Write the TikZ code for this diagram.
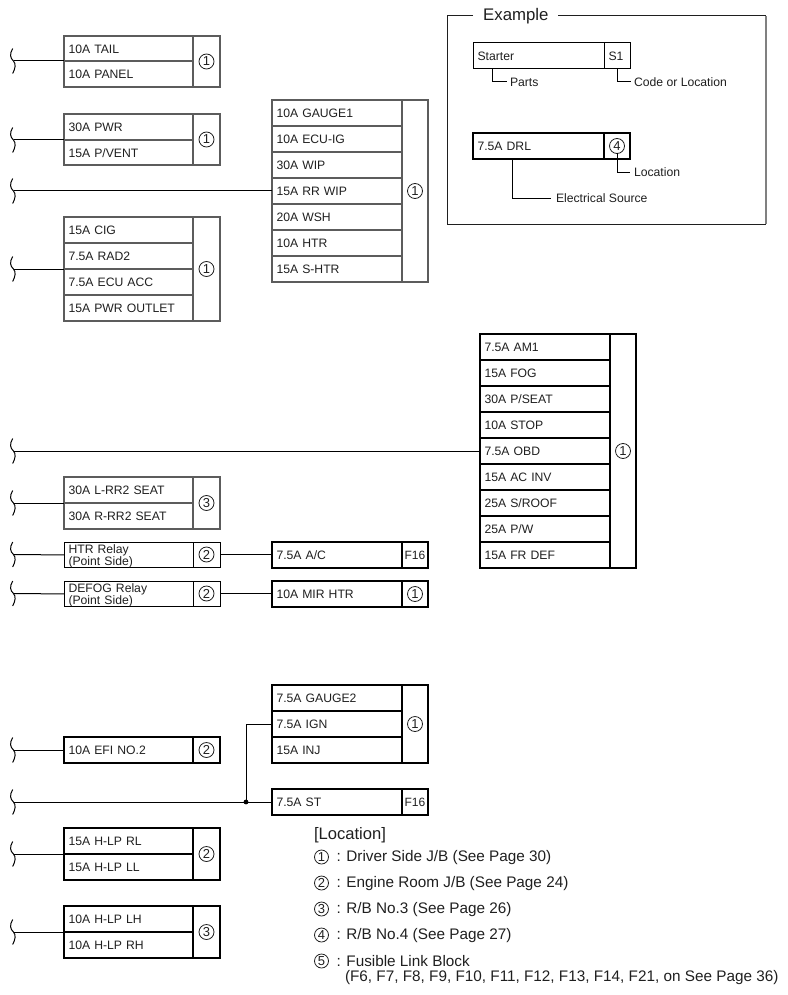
\documentclass[tikz,border=0pt]{standalone}
\usepackage{fontspec}
\setmainfont{Liberation Sans}
\definecolor{ink}{gray}{0.12}
\definecolor{edge}{gray}{0.36}
\tikzset{
  thinbox/.style={draw=edge,line width=1.5pt},
  finebox/.style={draw=black,line width=1pt},
  thickbox/.style={draw=black,line width=2pt},
  wire/.style={draw=black,line width=1pt},
  tilde/.style={draw=black,line width=1pt},
  num/.style={draw=ink,circle,line width=0.8pt,minimum size=15pt,inner sep=0pt,outer sep=0pt,text=ink,font=\fontsize{13}{13}\selectfont},
  lnum/.style={num,minimum size=14pt},
  code/.style={text=ink,inner sep=0pt,font=\fontsize{12}{12}\selectfont},
  lbl/.style={anchor=west,inner sep=0pt,outer sep=0pt,text=ink,font=\fontsize{12.2}{14}\selectfont},
  leg/.style={anchor=west,inner sep=0pt,outer sep=0pt,text=ink,font=\fontsize{15.3}{17}\selectfont,align=left},
}
% \Cell[style]{name}{x1}{x2}{y1}{y2}{text}
\newcommand\Cell[7][thinbox]{%
  \pgfmathsetmacro\cw{#4-#3}\pgfmathsetmacro\ch{#6-#5}\pgfmathsetmacro\tw{\cw-9}%
  \node[#1,minimum width=\cw pt,minimum height=\ch pt,text width=\tw pt,inner xsep=4.5pt,inner ysep=0pt,outer sep=0pt,anchor=north west,align=left,text=ink,font=\fontsize{12.2}{12}\selectfont] (#2) at (#3,#5) {\rule[-2pt]{0pt}{13.3pt}#7};}
% \Rel: two-line relay cell
\newcommand\Rel[6]{%
  \pgfmathsetmacro\cw{#3-#2}\pgfmathsetmacro\ch{#5-#4}\pgfmathsetmacro\tw{\cw-9}%
  \node[finebox,minimum width=\cw pt,minimum height=\ch pt,text width=\tw pt,inner xsep=4.5pt,inner ysep=0pt,outer sep=0pt,anchor=north west,align=left,text=ink,font=\fontsize{12.2}{10.8}\selectfont] (#1) at (#2,#4) {\setlength{\lineskiplimit}{-6pt}\rule{0pt}{11pt}#6};}
% \Sq{name}{y}: break mark, coordinate name at its centre
\newcommand\Sq[2]{%
  \coordinate (#1) at (13.5,#2);
  \draw[tilde] (12.7,#2-12.5) .. controls (9.5,#2-7) and (10,#2-3) .. (#1) .. controls (16,#2+3) and (15.5,#2+7) .. (12.7,#2+12.5);}
\begin{document}
\begin{tikzpicture}[x=1pt,y=-1pt]
\useasboundingbox (0,0) rectangle (787,995);
% TAIL group
\Cell{a1}{64}{193}{36}{61}{10A TAIL}
\Cell{a2}{64}{193}{61}{87}{10A PANEL}
\Cell{ac}{193}{220}{36}{87}{}
\node[num] (an) at (ac.center) {1};
\Sq{sa}{61}
\draw[wire] (sa) -- (a1.south west);
% PWR group
\Cell{b1}{64}{193}{114}{140}{30A PWR}
\Cell{b2}{64}{193}{140}{165}{15A P/VENT}
\Cell{bc}{193}{220}{114}{165}{}
\node[num] (bn) at (bc.center) {1};
\Sq{sb}{140}
\draw[wire] (sb) -- (b1.south west);
% GAUGE1 group
\Cell{c1}{272}{402}{100}{126}{10A GAUGE1}
\Cell{c2}{272}{402}{126}{152}{10A ECU-IG}
\Cell{c3}{272}{402}{152}{178}{30A WIP}
\Cell{c4}{272}{402}{178}{204}{15A RR WIP}
\Cell{c5}{272}{402}{204}{230}{20A WSH}
\Cell{c6}{272}{402}{230}{256}{10A HTR}
\Cell{c7}{272}{402}{256}{282}{15A S-HTR}
\Cell{cc}{402}{428}{100}{282}{}
\node[num] (cn) at (cc.center) {1};
\Sq{sc}{191}
\draw[wire] (sc) -- (c4.west);
% CIG group
\Cell{d1}{64}{193}{217}{243}{15A CIG}
\Cell{d2}{64}{193}{243}{269}{7.5A RAD2}
\Cell{d3}{64}{193}{269}{295}{7.5A ECU ACC}
\Cell{d4}{64}{193}{295}{321}{15A PWR OUTLET}
\Cell{dc}{193}{220}{217}{321}{}
\node[num] (dn) at (dc.center) {1};
\Sq{sd}{269}
\draw[wire] (sd) -- (d2.south west);
% AM1 group
\Cell[thickbox]{e1}{480}{610}{334}{360}{7.5A AM1}
\Cell[thickbox]{e2}{480}{610}{360}{386}{15A FOG}
\Cell[thickbox]{e3}{480}{610}{386}{412}{30A P/SEAT}
\Cell[thickbox]{e4}{480}{610}{412}{438}{10A STOP}
\Cell[thickbox]{e5}{480}{610}{438}{464}{7.5A OBD}
\Cell[thickbox]{e6}{480}{610}{464}{490}{15A AC INV}
\Cell[thickbox]{e7}{480}{610}{490}{516}{25A S/ROOF}
\Cell[thickbox]{e8}{480}{610}{516}{542}{25A P/W}
\Cell[thickbox]{e9}{480}{610}{542}{568}{15A FR DEF}
\Cell[thickbox]{ec}{610}{636}{334}{568}{}
\node[num] (en) at (ec.center) {1};
\Sq{se}{451}
\draw[wire] (se) -- (e5.west);
% RR2 seat
\Cell{f1}{64}{193}{477}{503}{30A L-RR2 SEAT}
\Cell{f2}{64}{193}{503}{529}{30A R-RR2 SEAT}
\Cell{fc}{193}{220}{477}{529}{}
\node[num] (fn) at (fc.center) {3};
\Sq{sf}{503}
\draw[wire] (sf) -- (f1.south west);
% HTR relay
\Rel{g1}{64}{193}{542}{567}{HTR Relay\\(Point Side)}
\Cell[finebox]{gc}{193}{220}{542}{567}{}
\node[num] (gn) at (gc.center) {2};
\Sq{sg}{554.5}
\draw[wire] (sg) -- (g1.west);
\Cell[thickbox]{h1}{272}{402}{542}{568}{7.5A A/C}
\Cell[thickbox]{hc}{402}{428}{542}{568}{}
\node[code] (hn) at (hc.center) {F16};
\draw[wire] (gc.east) -- (gc.east -| h1.west);
% DEFOG relay
\Rel{i1}{64}{193}{581}{606}{DEFOG Relay\\(Point Side)}
\Cell[finebox]{ic}{193}{220}{581}{606}{}
\node[num] (in) at (ic.center) {2};
\Sq{si}{593.5}
\draw[wire] (si) -- (i1.west);
\Cell[thickbox]{j1}{272}{402}{581}{607}{10A MIR HTR}
\Cell[thickbox]{jc}{402}{428}{581}{607}{}
\node[num] (jn) at (jc.center) {1};
\draw[wire] (ic.east) -- (ic.east -| j1.west);
% GAUGE2 group
\Cell[thickbox]{k1}{272}{402}{685}{711}{7.5A GAUGE2}
\Cell[thickbox]{k2}{272}{402}{711}{737}{7.5A IGN}
\Cell[thickbox]{k3}{272}{402}{737}{763}{15A INJ}
\Cell[thickbox]{kc}{402}{428}{685}{763}{}
\node[num] (kn) at (kc.center) {1};
% EFI
\Cell[thickbox]{l1}{64}{193}{737}{763}{10A EFI NO.2}
\Cell[thickbox]{lc}{193}{220}{737}{763}{}
\node[num] (ln) at (lc.center) {2};
\Sq{sl}{750}
\draw[wire] (sl) -- (l1.west);
% ST
\Cell[thickbox]{m1}{272}{402}{789}{815}{7.5A ST}
\Cell[thickbox]{mc}{402}{428}{789}{815}{}
\node[code] (mn) at (mc.center) {F16};
\Sq{sm}{802}
\draw[wire] (sm) -- (m1.west);
\coordinate (dot) at (246,802);
\draw[wire] (dot) |- (k2.west);
\fill[black] (dot) circle (2.4pt);
% H-LP RL/LL
\Cell[thickbox]{n1}{64}{193}{828}{854}{15A H-LP RL}
\Cell[thickbox]{n2}{64}{193}{854}{880}{15A H-LP LL}
\Cell[thickbox]{nc}{193}{220}{828}{880}{}
\node[num] (nn) at (nc.center) {2};
\Sq{sn}{854}
\draw[wire] (sn) -- (n1.south west);
% H-LP LH/RH
\Cell[thickbox]{o1}{64}{193}{906}{932}{10A H-LP LH}
\Cell[thickbox]{o2}{64}{193}{932}{958}{10A H-LP RH}
\Cell[thickbox]{oc}{193}{220}{906}{958}{}
\node[num] (on) at (oc.center) {3};
\Sq{so}{932}
\draw[wire] (so) -- (o1.south west);
% Example frame
\draw[draw=ink,line width=1pt] (473,16) -- (447,16) -- (447,224) -- (766,224);
\draw[draw=ink,line width=1pt] (558,16) -- (766,16);
\draw[draw=gray,line width=1.2pt] (766,16) -- (766,224);
\node[anchor=west,inner sep=0pt,text=ink,font=\fontsize{16.8}{16.8}\selectfont] (ext) at (483,16) {Example};
\Cell[finebox]{p1}{473}{604}{43}{69}{Starter}
\Cell[finebox]{pc}{604}{630}{43}{69}{S1}
\node[lbl] (pl) at (510,82) {Parts};
\node[lbl] (cl) at (634,82) {Code or Location};
\draw[wire] (p1.south west) ++(19.5,0) |- ([xshift=-3pt]pl.west);
\draw[wire] (pc.south) |- ([xshift=-3pt]cl.west);
\Cell[thickbox]{q1}{473}{604}{133}{159}{7.5A DRL}
\Cell[thickbox]{qc}{604}{630}{133}{159}{}
\node[num] (qn) at (qc.center) {4};
\node[lbl] (ql) at (634,172.5) {Location};
\node[lbl] (el) at (556,198.5) {Electrical Source};
\draw[wire] (qn.south) |- ([xshift=-4pt]ql.west);
\draw[wire] (q1.south west) ++(39,0) |- ([xshift=-5pt]el.west);
% Legend
\node[leg,font=\fontsize{16.6}{16.6}\selectfont] (lh) at (314,835) {[Location]};
\node[lnum] (l1n) at (321.5,857) {1};
\node[leg] (l1t) at (336.5,857.5) {: Driver Side J/B (See Page 30)};
\node[lnum] (l2n) at (321.5,883) {2};
\node[leg] (l2t) at (336.5,883.5) {: Engine Room J/B (See Page 24)};
\node[lnum] (l3n) at (321.5,909) {3};
\node[leg] (l3t) at (336.5,909.5) {: R/B No.3 (See Page 26)};
\node[lnum] (l4n) at (321.5,935) {4};
\node[leg] (l4t) at (336.5,935.5) {: R/B No.4 (See Page 27)};
\node[lnum] (l5n) at (321.5,961) {5};
\node[leg] (l5t) at (336.5,961.5) {: Fusible Link Block};
\node[leg] (l6t) at (345,978) {(F6, F7, F8, F9, F10, F11, F12, F13, F14, F21, on See Page 36)};
\end{tikzpicture}
\end{document}
